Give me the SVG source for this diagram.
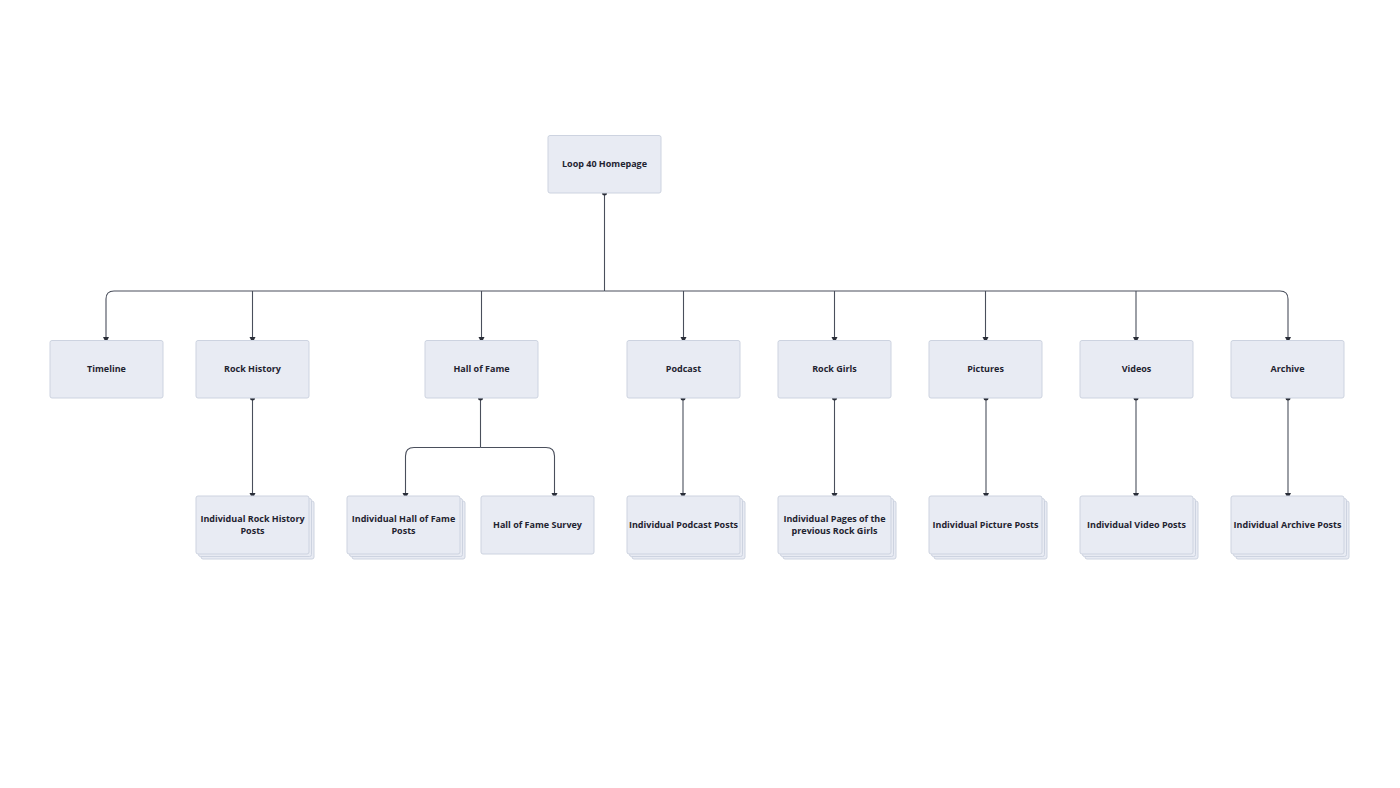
<svg xmlns="http://www.w3.org/2000/svg" width="1400" height="788" viewBox="0 0 1400 788">
<style>
.n{fill:#e8ebf3;stroke:#cdd3e0;stroke-width:1}
.t{font-family:"Open Sans","Noto Sans",sans-serif;font-size:9px;font-weight:bold;fill:#1f2330;text-anchor:middle}
.c{fill:none;stroke:#4a4f5c;stroke-width:1.1}
</style>
<defs>
<marker id="a" markerWidth="6" markerHeight="6" refX="3" refY="5" orient="auto" markerUnits="userSpaceOnUse" viewBox="0 0 6 6"><path d="M0,0 L6,0 L3,6 z" fill="#2a2e38" transform="rotate(-90 3 3)"/></marker>
<marker id="ar" markerWidth="7" markerHeight="7" refX="6" refY="3.5" orient="auto" markerUnits="userSpaceOnUse"><path d="M0,0.5 L6,3.5 L0,6.5 z" fill="#2a2e38"/></marker>
</defs>
<rect width="1400" height="788" fill="#fff"/>
<g id="connectors">
<path class="c" d="M604.5,193 V291"/>
<path class="c" marker-end="url(#ar)" d="M604.5,291 H114 Q106,291 106,299 V343"/>
<path class="c" marker-end="url(#ar)" d="M604.5,291 H1280 Q1288,291 1288,299 V343"/>
<path class="c" marker-end="url(#ar)" d="M252.5,291 V343"/>
<path class="c" marker-end="url(#ar)" d="M481.5,291 V343"/>
<path class="c" marker-end="url(#ar)" d="M683.5,291 V343"/>
<path class="c" marker-end="url(#ar)" d="M834.5,291 V343"/>
<path class="c" marker-end="url(#ar)" d="M985.5,291 V343"/>
<path class="c" marker-end="url(#ar)" d="M1136,291 V343"/>
<path class="c" marker-end="url(#ar)" d="M252.5,398 V499"/>
<path class="c" d="M480.5,398 V447.5"/>
<path class="c" marker-end="url(#ar)" d="M480.5,447.5 H414 Q405.5,447.5 405.5,456 V499"/>
<path class="c" marker-end="url(#ar)" d="M480.5,447.5 H546 Q554.5,447.5 554.5,456 V499"/>
<path class="c" marker-end="url(#ar)" d="M683,398 V499"/>
<path class="c" marker-end="url(#ar)" d="M834.5,398 V499"/>
<path class="c" marker-end="url(#ar)" d="M986,398 V499"/>
<path class="c" marker-end="url(#ar)" d="M1136,398 V499"/>
<path class="c" marker-end="url(#ar)" d="M1288,398 V499"/>
<g fill="#2a2e38">
<circle cx="604.5" cy="193" r="2.5"/><circle cx="252.5" cy="398" r="2.5"/><circle cx="480.5" cy="398" r="2.5"/><circle cx="683" cy="398" r="2.5"/><circle cx="834.5" cy="398" r="2.5"/><circle cx="986" cy="398" r="2.5"/><circle cx="1136" cy="398" r="2.5"/><circle cx="1288" cy="398" r="2.5"/>
</g>
</g>
<g id="home"><rect class="n" x="548" y="135.5" width="113" height="57.5" rx="2"/><text class="t" x="604.5" y="167">Loop 40 Homepage</text></g>
<g id="timeline"><rect class="n" x="50" y="340.5" width="113" height="57.5" rx="2"/><text class="t" x="106.5" y="372">Timeline</text></g>
<g id="rockhistory"><rect class="n" x="196" y="340.5" width="113" height="57.5" rx="2"/><text class="t" x="252.5" y="372">Rock History</text></g>
<g id="halloffame"><rect class="n" x="425" y="340.5" width="113" height="57.5" rx="2"/><text class="t" x="481.5" y="372">Hall of Fame</text></g>
<g id="podcast"><rect class="n" x="627" y="340.5" width="113" height="57.5" rx="2"/><text class="t" x="683.5" y="372">Podcast</text></g>
<g id="rockgirls"><rect class="n" x="778" y="340.5" width="113" height="57.5" rx="2"/><text class="t" x="834.5" y="372">Rock Girls</text></g>
<g id="pictures"><rect class="n" x="929" y="340.5" width="113" height="57.5" rx="2"/><text class="t" x="985.5" y="372">Pictures</text></g>
<g id="videos"><rect class="n" x="1080" y="340.5" width="113" height="57.5" rx="2"/><text class="t" x="1136.5" y="372">Videos</text></g>
<g id="archive"><rect class="n" x="1231" y="340.5" width="113" height="57.5" rx="2"/><text class="t" x="1287.5" y="372">Archive</text></g>
<g id="rhposts"><rect class="n" x="201" y="501" width="113" height="58" rx="2"/><rect class="n" x="198.5" y="498.5" width="113" height="58" rx="2"/><rect class="n" x="196" y="496" width="113" height="58" rx="2"/><text class="t" x="252.5" y="522">Individual Rock History</text><text class="t" x="252.5" y="534">Posts</text></g>
<g id="hofposts"><rect class="n" x="352" y="501" width="113" height="58" rx="2"/><rect class="n" x="349.5" y="498.5" width="113" height="58" rx="2"/><rect class="n" x="347" y="496" width="113" height="58" rx="2"/><text class="t" x="403.5" y="522">Individual Hall of Fame</text><text class="t" x="403.5" y="534">Posts</text></g>
<g id="hofsurvey"><rect class="n" x="481" y="496" width="113" height="58" rx="2"/><text class="t" x="537.5" y="528">Hall of Fame Survey</text></g>
<g id="podposts"><rect class="n" x="632" y="501" width="113" height="58" rx="2"/><rect class="n" x="629.5" y="498.5" width="113" height="58" rx="2"/><rect class="n" x="627" y="496" width="113" height="58" rx="2"/><text class="t" x="683.5" y="528">Individual Podcast Posts</text></g>
<g id="rgposts"><rect class="n" x="783" y="501" width="113" height="58" rx="2"/><rect class="n" x="780.5" y="498.5" width="113" height="58" rx="2"/><rect class="n" x="778" y="496" width="113" height="58" rx="2"/><text class="t" x="834.5" y="522">Individual Pages of the</text><text class="t" x="834.5" y="534">previous Rock Girls</text></g>
<g id="picposts"><rect class="n" x="934" y="501" width="113" height="58" rx="2"/><rect class="n" x="931.5" y="498.5" width="113" height="58" rx="2"/><rect class="n" x="929" y="496" width="113" height="58" rx="2"/><text class="t" x="985.5" y="528">Individual Picture Posts</text></g>
<g id="vidposts"><rect class="n" x="1085" y="501" width="113" height="58" rx="2"/><rect class="n" x="1082.5" y="498.5" width="113" height="58" rx="2"/><rect class="n" x="1080" y="496" width="113" height="58" rx="2"/><text class="t" x="1136.5" y="528">Individual Video Posts</text></g>
<g id="arcposts"><rect class="n" x="1236" y="501" width="113" height="58" rx="2"/><rect class="n" x="1233.5" y="498.5" width="113" height="58" rx="2"/><rect class="n" x="1231" y="496" width="113" height="58" rx="2"/><text class="t" x="1287.5" y="528">Individual Archive Posts</text></g>
</svg>
